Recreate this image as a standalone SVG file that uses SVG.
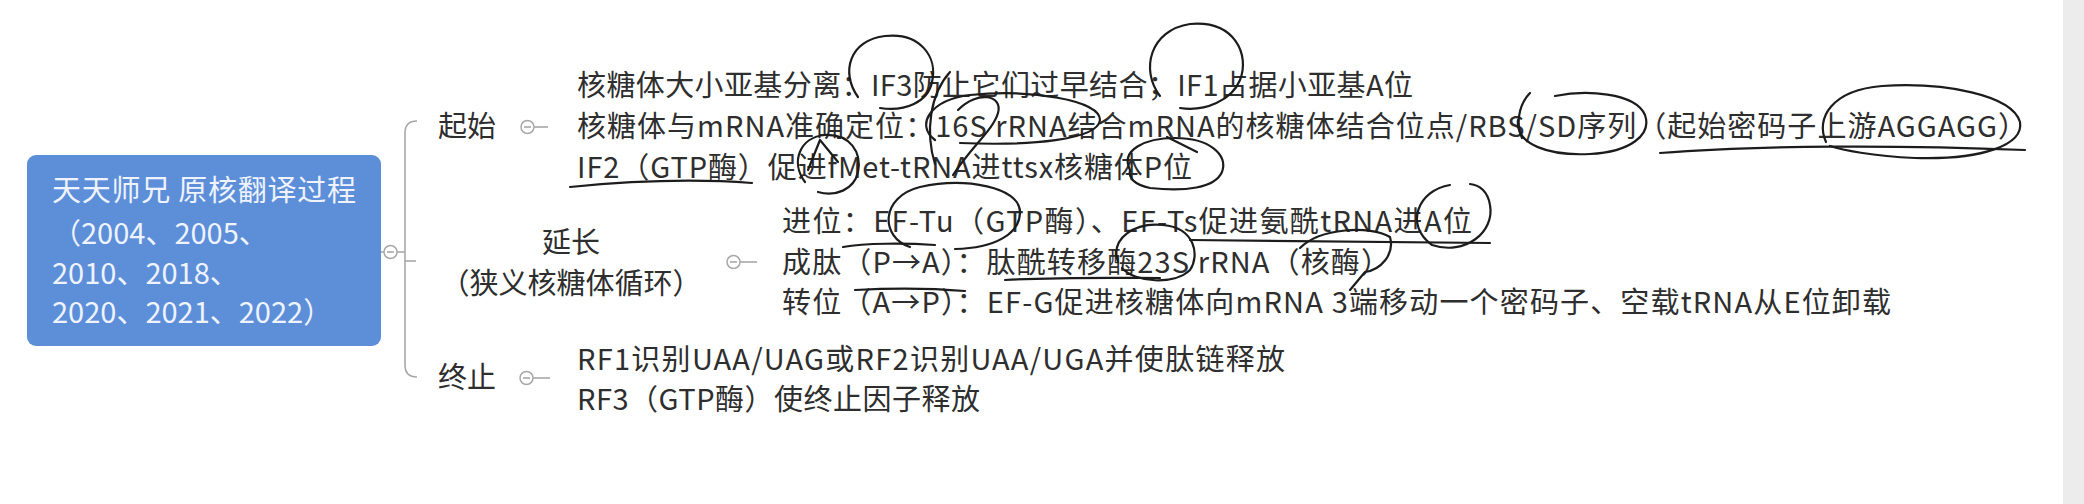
<svg xmlns="http://www.w3.org/2000/svg" width="2084" height="504" viewBox="0 0 2084 504">
<style>
.t{font-family:"Noto Sans CJK SC","Noto Sans",sans-serif;font-size:29px;fill:#2e2e2e}
.rt{font-family:"Noto Sans CJK SC","Noto Sans",sans-serif;font-size:29px;fill:#eef3ff}
.ln{stroke:#a8a8a8;stroke-width:1.6;fill:none}
.ic{stroke:#a8a8a8;stroke-width:1.5;fill:#ffffff}
.hw{stroke:#1c1c1c;stroke-width:2.2;fill:none;stroke-linecap:round;stroke-linejoin:round}
</style>
<rect x="0" y="0" width="2084" height="504" fill="#ffffff"/>
<rect x="2063" y="0" width="21" height="504" fill="#ececec"/>

<g id="connectors">
  <line class="ln" x1="381" y1="252" x2="384" y2="252"/>
  <line class="ln" x1="397" y1="252" x2="405" y2="252"/>
  <path class="ln" d="M417,121 Q405,121 405,133 L405,365 Q405,377 417,377"/>
  <line class="ln" x1="405" y1="261" x2="416" y2="261"/>
  <line class="ln" x1="534" y1="127" x2="548" y2="127"/>
  <line class="ln" x1="740" y1="262" x2="757" y2="262"/>
  <line class="ln" x1="533" y1="378" x2="550" y2="378"/>
  <g>
    <circle class="ic" cx="390.5" cy="252" r="6.5"/>
    <line class="ln" x1="387" y1="252" x2="394" y2="252"/>
    <circle class="ic" cx="527.5" cy="127" r="6.5"/>
    <line class="ln" x1="524" y1="127" x2="531" y2="127"/>
    <circle class="ic" cx="733.5" cy="262" r="6.5"/>
    <line class="ln" x1="730" y1="262" x2="737" y2="262"/>
    <circle class="ic" cx="526.5" cy="378" r="6.5"/>
    <line class="ln" x1="523" y1="378" x2="530" y2="378"/>
  </g>
</g>

<g id="root">
  <rect x="27" y="155" width="354" height="191" rx="9" fill="#5d8fd8"/>
  <text class="rt" x="52" y="201" textLength="304" lengthAdjust="spacing">天天师兄 原核翻译过程</text>
  <text class="rt" x="52" y="244">（2004、2005、</text>
  <text class="rt" x="52" y="284">2010、2018、</text>
  <text class="rt" x="52" y="323">2020、2021、2022）</text>
</g>

<g id="qishi">
  <text class="t" x="438" y="137">起始</text>
</g>
<g id="qishi-detail">
  <text class="t" x="577" y="96" textLength="836" lengthAdjust="spacing">核糖体大小亚基分离：IF3防止它们过早结合；IF1占据小亚基A位</text>
  <text class="t" x="577" y="137" textLength="1450" lengthAdjust="spacing">核糖体与mRNA准确定位：16S rRNA结合mRNA的核糖体结合位点/RBS/SD序列（起始密码子上游AGGAGG）</text>
  <text class="t" x="577" y="178" textLength="615" lengthAdjust="spacing">IF2（GTP酶）促进fMet-tRNA进ttsx核糖体P位</text>
</g>

<g id="yanchang">
  <text class="t" x="571" y="253" text-anchor="middle">延长</text>
  <text class="t" x="571" y="294" text-anchor="middle">（狭义核糖体循环）</text>
</g>
<g id="yanchang-detail">
  <text class="t" x="782" y="232" textLength="690" lengthAdjust="spacing">进位：EF-Tu（GTP酶）、EF-Ts促进氨酰tRNA进A位</text>
  <text class="t" x="782" y="273" textLength="608" lengthAdjust="spacing">成肽（P→A）：肽酰转移酶23S rRNA（核酶）</text>
  <text class="t" x="782" y="313" textLength="1109" lengthAdjust="spacing">转位（A→P）：EF-G促进核糖体向mRNA 3端移动一个密码子、空载tRNA从E位卸载</text>
</g>

<g id="zhongzhi">
  <text class="t" x="438" y="388">终止</text>
</g>
<g id="zhongzhi-detail">
  <text class="t" x="577" y="370" textLength="708" lengthAdjust="spacing">RF1识别UAA/UAG或RF2识别UAA/UGA并使肽链释放</text>
  <text class="t" x="577" y="410" textLength="403" lengthAdjust="spacing">RF3（GTP酶）使终止因子释放</text>
</g>

<g id="handwriting">
  <path class="hw" d="M858,97 C840,72 850,40 885,36 C920,32 938,57 932,82 C928,102 905,112 880,108"/>
  <path class="hw" d="M1160,96 C1140,70 1150,30 1190,24 C1235,20 1250,55 1240,80 C1232,100 1205,112 1180,108"/>
  <path class="hw" d="M935,140 C915,125 930,100 970,95 C1030,89 1100,100 1100,120 C1098,140 1030,146 960,143"/>
  <path class="hw" d="M958,110 C978,90 1003,95 998,113 C993,130 973,145 953,175"/>
  <path class="hw" d="M950,72 C930,94 925,132 935,164"/>
  <path class="hw" d="M805,182 C790,162 800,137 825,135 C850,134 862,152 858,172 C854,190 835,197 818,192"/>
  <path class="hw" d="M808,170 L820,140 L838,162"/>
  <path class="hw" d="M570,187 C640,180 700,179 752,183"/>
  <path class="hw" d="M1130,170 C1120,150 1145,138 1175,138 C1210,138 1228,155 1222,172 C1215,188 1185,192 1150,188 C1135,185 1128,178 1130,170"/>
  <path class="hw" d="M1167,137 L1197,152"/>
  <path class="hw" d="M1555,96 C1585,90 1635,92 1645,115 C1652,135 1630,152 1590,154 C1550,156 1515,145 1518,120"/>
  <path class="hw" d="M1530,93 C1518,105 1516,125 1522,138"/>
  <path class="hw" d="M1826,142 C1815,118 1832,90 1882,86 C1945,82 2012,95 2020,122 C2024,145 1982,160 1915,158 C1872,156 1842,150 1830,146"/>
  <path class="hw" d="M1660,153 C1760,145 1900,145 2025,150"/>
  <path class="hw" d="M910,247 C880,237 880,197 920,187 C965,177 1020,187 1020,212 C1020,234 995,248 955,249"/>
  <path class="hw" d="M1450,185 C1418,190 1404,225 1432,245 C1465,256 1495,232 1490,205 C1488,192 1480,185 1470,184"/>
  <path class="hw" d="M1190,240 C1300,241 1400,242 1490,243"/>
  <path class="hw" d="M1118,262 C1110,238 1135,222 1163,225 C1195,228 1200,255 1190,270 C1175,285 1135,283 1122,268"/>
  <path class="hw" d="M1005,280 C1060,277 1120,278 1160,278"/>
  <path class="hw" d="M1300,248 C1320,228 1370,225 1390,237 C1395,255 1380,270 1365,272 L1350,290"/>
  <path class="hw" d="M843,247 C865,243 905,243 935,245"/>
  <path class="hw" d="M855,290 C890,288 930,288 965,291"/>
</g>
</svg>
